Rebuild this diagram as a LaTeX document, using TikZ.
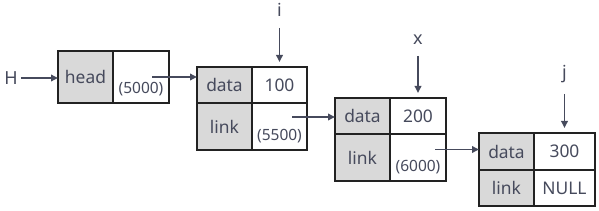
\documentclass[tikz,border=0pt]{standalone}
\usepackage{fontspec}
\setmainfont{Noto Sans}
\usetikzlibrary{arrows.meta,positioning}
\definecolor{cellgray}{RGB}{217,217,217}
\definecolor{inkgray}{RGB}{70,74,92}
\definecolor{edgeblack}{RGB}{34,34,34}
\tikzset{
  cell/.style={rectangle, draw=edgeblack, line width=1.4pt, minimum width=55pt, minimum height=36pt, inner sep=0pt, outer sep=0pt, text=inkgray, font=\fontsize{17.4}{19}\selectfont},
  tagcell/.style={cell, fill=cellgray},
  addr/.style={text=inkgray, font=\fontsize{15.5}{17}\selectfont, inner sep=1pt},
  varname/.style={text=inkgray, font=\fontsize{18}{20}\selectfont, inner sep=0pt},
  ptr/.style={-{Triangle[length=7pt, width=6.5pt]}, line width=1.9pt, draw=inkgray},
  varptr/.style={ptr, shorten <=11pt, shorten >=5pt}
}

\begin{document}
\begin{tikzpicture}[x=1pt, y=-1pt]
\useasboundingbox (0,0) rectangle (599,211);
% head box
\node[tagcell, minimum height=52pt, anchor=north west] (headL) at (58,51) {head};
\node[cell, minimum height=52pt, minimum width=56pt, right=0pt of headL] (headR) {};
\node[addr, above=6pt of headR.south] (a0) {(5000)};
\node[varname, inner sep=3pt] (H) at (11,78) {H};
% first node
\node[tagcell, anchor=north west] (n1d) at (197,67) {data};
\node[cell, right=0pt of n1d] (n1v) {100};
\node[tagcell, minimum height=47pt, below=0pt of n1d] (n1l) {link};
\node[cell, minimum height=47pt, right=0pt of n1l] (n1p) {};
\node[addr, above=6pt of n1p.south] (a1) {(5500)};
% second node
\node[tagcell, anchor=north west] (n2d) at (335,98) {data};
\node[cell, minimum width=56pt, right=0pt of n2d] (n2v) {200};
\node[tagcell, minimum height=47pt, below=0pt of n2d] (n2l) {link};
\node[cell, minimum width=56pt, minimum height=47pt, right=0pt of n2l] (n2p) {};
\node[addr, above=6pt of n2p.south] (a2) {(6000)};
% third node
\node[tagcell, minimum height=37pt, anchor=north west] (n3d) at (479,133) {data};
\node[cell, minimum width=61pt, minimum height=37pt, right=0pt of n3d] (n3v) {300};
\node[tagcell, below=0pt of n3d] (n3l) {link};
\node[cell, minimum width=61pt, right=0pt of n3l] (n3p) {NULL};
% pointer names
\node[varname, above=50pt of n1v] (i) {i};
\node[varname, above=53pt of n2v] (x) {x};
\node[varname, above=50pt of n3v] (j) {j};
% link starts
\coordinate (s0) at ([xshift=11pt]headR.center);
\coordinate (s1) at ([xshift=12.5pt, yshift=9.5pt]n1p.center);
\coordinate (s2) at ([xshift=17pt, yshift=8pt]n2p.center);
% arrows
\draw[ptr] (H) -- (H -| headL.west);
\draw[ptr] (s0) -- (s0 -| n1d.west);
\draw[ptr] (s1) -- (s1 -| n2d.west);
\draw[ptr] (s2) -- (s2 -| n3d.west);
\draw[varptr] (i) -- (n1v);
\draw[varptr] (x) -- (n2v);
\draw[varptr] (j) -- (n3v);
\end{tikzpicture}
\end{document}
